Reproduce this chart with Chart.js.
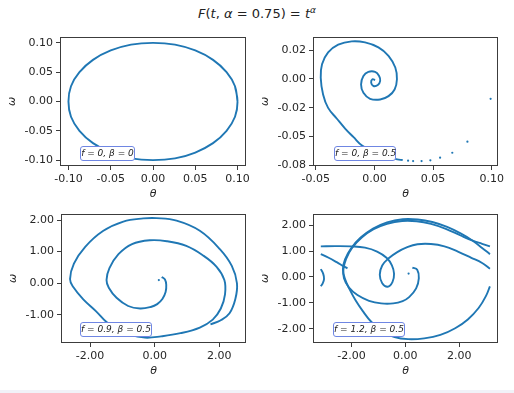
<!DOCTYPE html>
<html>
<head>
<meta charset="utf-8">
<script src="https://cdn.jsdelivr.net/npm/chart.js@4.4.1/dist/chart.umd.min.js"></script>
<style>
	html, body { margin: 0; padding: 0; background: #fff; }
	body { width: 514px; height: 393px; position: relative; overflow: hidden; font-family: 'DejaVu Sans', sans-serif; }
	canvas { position: absolute; }
	.title { position: absolute; left: 0; width: 514px; top: 5px; line-height: 18px; text-align: center; font-size: 13px; color: #222; }
	.title sup { font-size: 9px; vertical-align: 5px; line-height: 0; }
	.note { position: absolute; box-sizing: border-box; height: 15.5px; border: 1px solid #6f86e3; border-radius: 3px; background: #fff; font-size: 9px; font-style: italic; line-height: 13.5px; text-align: center; color: #222; white-space: nowrap; }
	.strip { position: absolute; left: 0; top: 390px; width: 514px; height: 3px; background: #f1f2f8; }
</style>
</head>
<body>
<div class="title"><i>F</i>(<i>t</i>, <i>α</i> = 0.75) = <i>t</i><sup><i>α</i></sup></div>
<canvas id="tl"></canvas>
<canvas id="tr"></canvas>
<canvas id="bl"></canvas>
<canvas id="br"></canvas>
<div class="note" style="left:80px; top:145.5px; width:55px;">f = 0, β = 0</div>
<div class="note" style="left:334px; top:145.5px; width:62px;">f = 0, β = 0.5</div>
<div class="note" style="left:80px; top:321.5px; width:72px;">f = 0.9, β = 0.5</div>
<div class="note" style="left:333px; top:321.5px; width:72px;">f = 1.2, β = 0.5</div>
<div class="strip"></div>
<script>
// phase space points [theta, omega]

// f = 0, beta = 0
const tlOrbit = [
	[0.100, 0.000], [0.097, 0.026], [0.087, 0.050], [0.071, 0.071], [0.050, 0.087], [0.026, 0.097],
	[0.000, 0.100], [-0.026, 0.097], [-0.050, 0.087], [-0.071, 0.071], [-0.087, 0.050], [-0.097, 0.026],
	[-0.100, 0.000], [-0.097, -0.026], [-0.087, -0.050], [-0.071, -0.071], [-0.050, -0.087], [-0.026, -0.097],
	[0.000, -0.100], [0.026, -0.097], [0.050, -0.087], [0.071, -0.071], [0.087, -0.050], [0.097, -0.026],
	[0.100, 0.000], [0.097, 0.026]
]

// f = 0, beta = 0.5
const trDots = [
	[0.0991, -0.0172], [0.0793, -0.0544], [0.0664, -0.0640], [0.0560, -0.0683],
	[0.0477, -0.0706], [0.0402, -0.0712], [0.0330, -0.0712], [0.0287, -0.0709]
]
const trSpiral = [
	[0.0241, -0.0703], [0.0195, -0.0698], [0.0120, -0.0680], [0.0040, -0.0650], [-0.0040, -0.0612],
	[-0.0106, -0.0578], [-0.0178, -0.0505], [-0.0250, -0.0430], [-0.0320, -0.0345], [-0.0395, -0.0251],
	[-0.0438, -0.0134], [-0.0458, 0.0011], [-0.0447, 0.0128], [-0.0395, 0.0230], [-0.0309, 0.0297],
	[-0.0194, 0.0326], [-0.0080, 0.0317], [0.0034, 0.0274], [0.0120, 0.0201], [0.0178, 0.0099],
	[0.0192, -0.0003], [0.0172, -0.0091], [0.0120, -0.0149], [0.0049, -0.0178], [-0.0037, -0.0172],
	[-0.0094, -0.0120], [-0.0114, -0.0047], [-0.0094, 0.0026], [-0.0052, 0.0061], [0.0006, 0.0061],
	[0.0040, 0.0026], [0.0049, -0.0017], [0.0029, -0.0052], [-0.0009, -0.0061], [-0.0028, -0.0032],
	[-0.0017, -0.0003], [0.0006, -0.0009]
]

// f = 0.9, beta = 0.5
const blStart = [[0.13, 0.10]]
const blPath = [
	[0.22, 0.20], [0.32, 0.12], [0.36, -0.05], [0.34, -0.28], [0.24, -0.50], [0.08, -0.66],
	[-0.12, -0.75], [-0.45, -0.80], [-0.82, -0.72], [-1.18, -0.46], [-1.42, -0.14], [-1.49, 0.10],
	[-1.40, 0.48], [-1.12, 0.92], [-0.70, 1.24], [-0.15, 1.36], [0.38, 1.33], [0.98, 1.18],
	[1.50, 0.88], [1.92, 0.52], [2.16, 0.10], [2.18, -0.35], [2.05, -0.80], [1.80, -1.15],
	[1.40, -1.40], [0.80, -1.58], [0.20, -1.68], [-0.30, -1.72], [-0.80, -1.62], [-1.20, -1.45],
	[-1.50, -1.22], [-1.82, -0.88], [-2.21, -0.51], [-2.52, -0.12], [-2.62, 0.13], [-2.50, 0.62],
	[-2.15, 1.15], [-1.60, 1.65], [-0.97, 1.95], [-0.35, 2.05], [0.06, 2.06], [0.68, 1.98],
	[1.40, 1.66], [2.02, 1.08], [2.39, 0.55], [2.55, 0.00], [2.50, -0.50], [2.32, -0.95],
	[2.05, -1.17], [1.73, -1.30]
]

// f = 1.2, beta = 0.5 (theta wrapped to [-pi, pi])
const brStart = [[0.12, 0.13]]
const brSeg1 = [
	[0.26, 0.36], [0.44, 0.28], [0.50, -0.05], [0.40, -0.44], [0.14, -0.78], [-0.10, -0.93],
	[-0.45, -1.02], [-0.90, -1.02], [-1.35, -0.92], [-1.78, -0.70], [-2.10, -0.40], [-2.28, -0.05],
	[-2.30, 0.30], [-2.20, 0.70], [-1.98, 1.12], [-1.62, 1.52], [-1.18, 1.84], [-0.68, 2.05],
	[-0.12, 2.16], [0.42, 2.15], [0.95, 2.05], [1.50, 1.86], [2.05, 1.60], [2.50, 1.40],
	[2.85, 1.28], [3.14, 1.18]
]
const brSeg2 = [
	[-3.14, 1.18], [-2.60, 1.19], [-2.00, 1.18], [-1.50, 1.13], [-1.05, 0.98], [-0.70, 0.74],
	[-0.50, 0.45], [-0.42, 0.12], [-0.48, -0.20], [-0.66, -0.38], [-0.86, -0.24], [-0.95, 0.08],
	[-0.86, 0.44], [-0.62, 0.72], [-0.30, 0.96], [0.05, 1.14], [0.45, 1.26], [0.95, 1.27],
	[1.45, 1.18], [1.95, 0.98], [2.45, 0.74], [2.85, 0.54], [3.14, 0.32]
]
const brSeg3 = [[-3.14, 0.30], [-3.05, 0.12], [-3.02, -0.08], [-3.07, -0.25], [-3.14, -0.36]]
const brSeg4 = [
	[3.14, -0.36], [3.00, -0.72], [2.72, -1.20], [2.32, -1.64], [1.85, -1.98], [1.30, -2.24],
	[0.70, -2.37], [0.10, -2.40], [-0.40, -2.32], [-0.85, -2.10], [-1.26, -1.74], [-1.58, -1.32],
	[-1.85, -0.90], [-2.07, -0.48], [-2.24, -0.08], [-2.32, 0.30], [-2.24, 0.68], [-2.02, 1.10],
	[-1.66, 1.52], [-1.20, 1.87], [-0.68, 2.11], [-0.10, 2.23], [0.46, 2.22], [1.00, 2.12],
	[1.55, 1.93], [2.05, 1.68], [2.50, 1.40], [2.85, 1.12], [3.14, 0.88]
]
const brSeg5 = [[-3.14, 0.88], [-2.85, 0.74], [-2.55, 0.57], [-2.32, 0.43], [-2.15, 0.33]]

// axis limits and ticks
const tlTicks = [-0.1, -0.05, 0, 0.05, 0.1]
const tlLabels = ['-0.10', '-0.05', '0.00', '0.05', '0.10']
const trXTicks = [-0.05, 0, 0.05, 0.1]
const trXLabels = ['-0.05', '0.00', '0.05', '0.10']
const trYTicks = [-0.075, -0.05, -0.025, 0, 0.025]
const trYLabels = ['-0.08', '-0.05', '-0.02', '0.00', '0.02']
const bxTicks = [-2, 0, 2]
const bxLabels = ['-2.00', '0.00', '2.00']
const blYTicks = [-1, 0, 1, 2]
const blYLabels = ['-1.00', '0.00', '1.00', '2.00']
const brYTicks = [-2, -1, 0, 1, 2]
const brYLabels = ['-2.00', '-1.00', '0.00', '1.00', '2.00']

const blue = '#1f77b4'
const ink = '#262626'

Chart.defaults.font.family = "'DejaVu Sans', sans-serif"
Chart.defaults.font.size = 11
Chart.defaults.color = ink

const framePlugin = {
	id: 'frame',
	afterDraw(chart) {
		const {ctx, chartArea: a} = chart
		ctx.save()
		ctx.strokeStyle = '#3c3c3c'
		ctx.lineWidth = 1
		ctx.strokeRect(a.left + 0.5, a.top + 0.5, a.right - a.left - 1, a.bottom - a.top - 1)
		ctx.restore()
	}
}

const toXY = pts => pts.map(p => ({x: p[0], y: p[1]}))

const lineSet = pts => ({
	data: toXY(pts),
	showLine: true,
	borderColor: blue,
	borderWidth: 1.9,
	pointRadius: 0,
	tension: 0.4,
	fill: false
})

const dotSet = pts => ({
	data: toXY(pts),
	showLine: false,
	pointRadius: 1.1,
	pointBackgroundColor: blue,
	pointBorderWidth: 0
})

const axis = (min, max, ticks, labels, title, horizontal) => ({
	type: 'linear',
	position: horizontal ? 'bottom' : 'left',
	min: min,
	max: max,
	afterBuildTicks: scale => { scale.ticks = ticks.map(v => ({value: v})) },
	afterFit: scale => {
		if (horizontal) scale.height = 44
		else scale.width = 56
	},
	grid: {drawOnChartArea: false, drawTicks: true, tickLength: 4, color: '#3c3c3c'},
	border: {display: false},
	ticks: {
		autoSkip: false,
		maxRotation: 0,
		minRotation: 0,
		padding: 3,
		color: ink,
		callback: (v, i) => labels[i]
	},
	title: {
		display: true,
		text: title,
		color: ink,
		font: {size: 11, style: 'italic'},
		padding: horizontal ? {top: 0, bottom: 9} : {top: 1.5, bottom: 0}
	}
})

const makeChart = (id, frame, datasets, xScale, yScale) => {
	const cv = document.getElementById(id)
	cv.width = frame.w + 56 + 16
	cv.height = frame.h + 10 + 44
	cv.style.left = (frame.x - 56) + 'px'
	cv.style.top = (frame.y - 10) + 'px'
	return new Chart(cv.getContext('2d'), {
		type: 'scatter',
		data: {datasets: datasets},
		options: {
			responsive: false,
			animation: false,
			devicePixelRatio: 1,
			layout: {padding: {left: 0, top: 10, right: 16, bottom: 0}},
			plugins: {legend: {display: false}, tooltip: {enabled: false}},
			scales: {x: xScale, y: yScale}
		},
		plugins: [framePlugin]
	})
}

makeChart('tl', {x: 60, y: 37, w: 186, h: 129},
	[lineSet(tlOrbit)],
	axis(-0.11, 0.11, tlTicks, tlLabels, 'θ', true),
	axis(-0.11, 0.11, tlTicks, tlLabels, 'ω', false))

makeChart('tr', {x: 313, y: 37, w: 185, h: 129},
	[dotSet(trDots), lineSet(trSpiral)],
	axis(-0.0524, 0.1054, trXTicks, trXLabels, 'θ', true),
	axis(-0.0755, 0.0364, trYTicks, trYLabels, 'ω', false))

makeChart('bl', {x: 61, y: 214, w: 185, h: 129},
	[dotSet(blStart), lineSet(blPath)],
	axis(-2.90, 2.83, bxTicks, bxLabels, 'θ', true),
	axis(-1.89, 2.19, blYTicks, blYLabels, 'ω', false))

makeChart('br', {x: 313, y: 214, w: 185, h: 129},
	[dotSet(brStart), lineSet(brSeg1), lineSet(brSeg2), lineSet(brSeg3), lineSet(brSeg4), lineSet(brSeg5)],
	axis(-3.43, 3.44, bxTicks, bxLabels, 'θ', true),
	axis(-2.55, 2.43, brYTicks, brYLabels, 'ω', false))
</script>
</body>
</html>
